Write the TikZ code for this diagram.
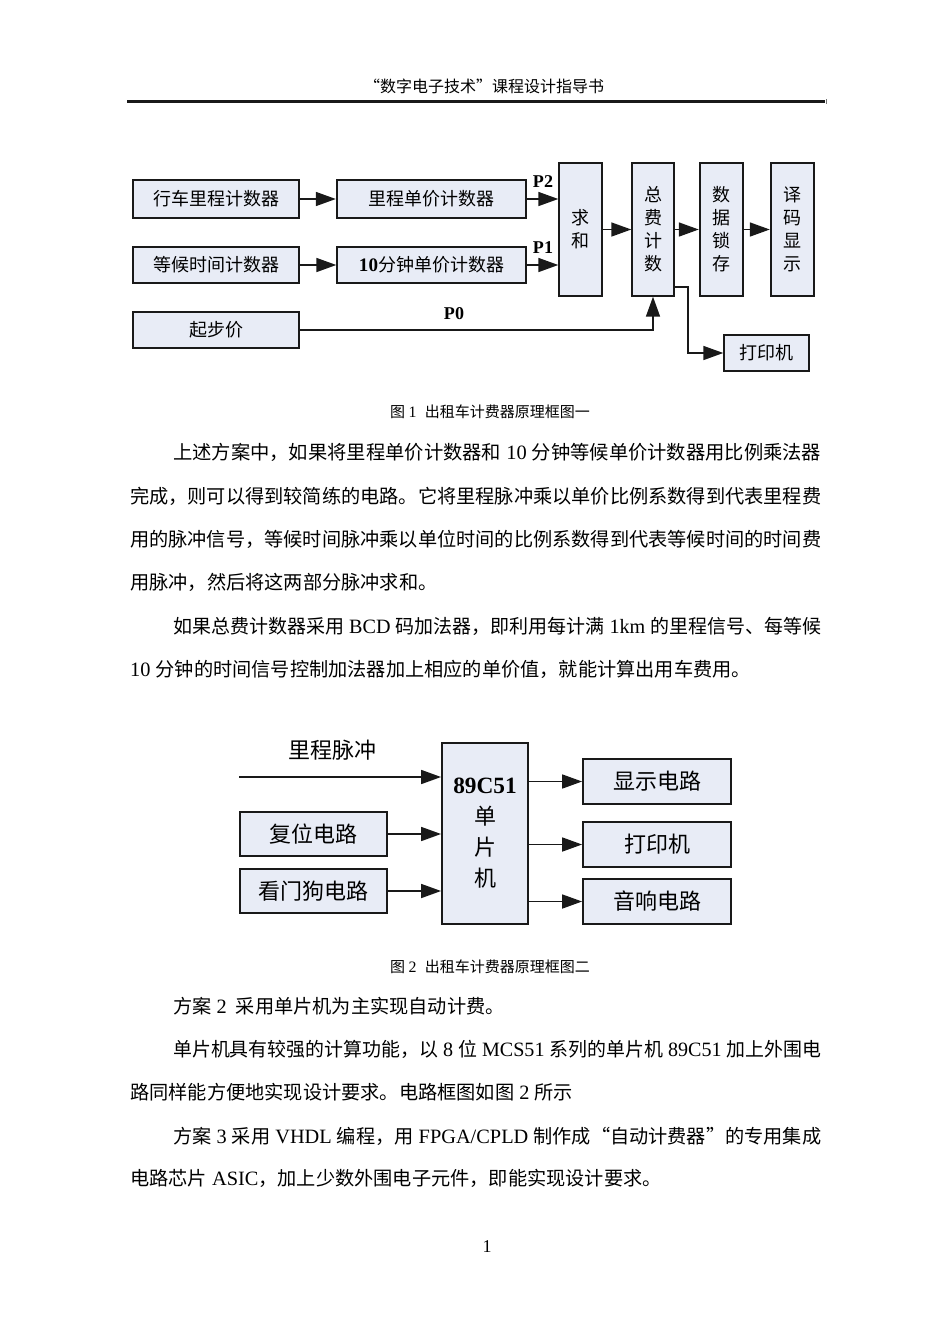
\documentclass[tikz,border=0pt]{standalone}
\usepackage{fontspec}
\usepackage{graphicx}
\setmainfont{Noto Sans CJK SC}
\newfontfamily\tnr[Scale=1.06]{Liberation Serif}
\newfontfamily\cjkfw[RawFeature=+fwid]{Noto Sans CJK SC}
\newcommand\en[1]{{\tnr #1}}
\newcommand\fq[1]{{\cjkfw #1}}
\newcommand\fitw[2]{\resizebox{#1}{\height}{#2}}
\usetikzlibrary{arrows.meta}
\definecolor{boxfill}{RGB}{232,236,246}
\definecolor{ink}{RGB}{25,25,25}
\tikzset{
  bodytxt/.style={anchor=base west, inner sep=0, font=\fontsize{19.2}{19.2}\selectfont},
  capt/.style={anchor=base west, inner sep=0, font=\fontsize{15}{15}\selectfont},
  blk/.style={draw=ink, fill=boxfill, line width=1.4pt, inner sep=0,
    font=\fontsize{18}{23}\selectfont, align=center},
  blkthick/.style={blk, line width=2.4pt},
  blktwo/.style={draw=ink, fill=boxfill, line width=1.8pt, inner sep=0,
    font=\fontsize{22}{31}\selectfont, align=center},
  conn/.style={draw=ink, line width=1.6pt, -{Triangle[length=20pt,width=14pt]}},
  plab/.style={inner sep=0, font=\tnr\bfseries\fontsize{17}{17}\selectfont},
}
\begin{document}
\begin{tikzpicture}[x=1pt,y=-1pt]
\useasboundingbox (0,0) rectangle (950,1342);
\fill[white] (0,0) rectangle (950,1342);

% ---------- header ----------
\node[anchor=base, inner sep=0, font=\fontsize{16}{16}\selectfont] (hdr) at (484,92)
  {\fq{“}数字电子技术\fq{”}课程设计指导书};
\draw[ink, line width=2.4pt] (127,101.5) -- (825,101.5);
\draw[ink!60, line width=0.6pt] (826.5,99) -- (826.5,104);

% ---------- figure 1 ----------
\node[blk, minimum width=166, minimum height=38] (a1) at (216,199) {行车里程计数器};
\node[blkthick, minimum width=189, minimum height=38] (a2) at (431.5,199) {里程单价计数器};
\node[blk, minimum width=166, minimum height=36] (b1) at (216,265) {等候时间计数器};
\node[blk, minimum width=189, minimum height=36] (b2) at (431.5,265) {\en{\bfseries 10}分钟单价计数器};
\node[blk, minimum width=166, minimum height=36] (c1) at (216,330) {起步价};
\node[blk, minimum width=43, minimum height=133] (qh) at (580.5,229.5) {求\\和};
\node[blk, minimum width=42, minimum height=133] (zf) at (653,229.5) {总\\费\\计\\数};
\node[blkthick, minimum width=43, minimum height=133] (sj) at (721.5,229.5) {数\\据\\锁\\存};
\node[blkthick, minimum width=43, minimum height=133] (ym) at (792.5,229.5) {译\\码\\显\\示};
\node[blk, minimum width=85, minimum height=36] (dy) at (766.5,353) {打印机};

\node[plab] (p2) at (543,182) {P2};
\node[plab] (p1) at (543,248) {P1};
\node[plab] (p0) at (454,314) {P0};

\draw[conn] (a1.east) -- (a2.west);
\draw[conn] (a2.east) -- (a2.east -| qh.west);
\draw[conn] (b1.east) -- (b2.west);
\draw[conn] (b2.east) -- (b2.east -| qh.west);
\draw[conn] (c1.east) -| (zf.south);
\draw[conn] (qh.east) -- (zf.west);
\draw[conn] (zf.east) -- (sj.west);
\draw[conn] (sj.east) -- (ym.west);
\draw[conn] ([yshift=10pt]zf.south east) -- ++(13,0) |- (dy.west);

\node[capt] (cap1) at (390,417.7) {图 \en{1}\hspace{5pt} 出租车计费器原理框图一};

% ---------- text block 1 ----------
\node[bodytxt] (t1) at (173,459.3) {\fitw{648pt}{上述方案中，如果将里程单价计数器和\en{ 10 }分钟等候单价计数器用比例乘法器}};
\node[bodytxt] (t2) at (130,503.3) {\fitw{691pt}{完成，则可以得到较简练的电路。它将里程脉冲乘以单价比例系数得到代表里程费}};
\node[bodytxt] (t3) at (130,546.3) {\fitw{691pt}{用的脉冲信号，等候时间脉冲乘以单位时间的比例系数得到代表等候时间的时间费}};
\node[bodytxt] (t4) at (130,589.3) {用脉冲，然后将这两部分脉冲求和。};
\node[bodytxt] (t5) at (173,633.3) {\fitw{648pt}{如果总费计数器采用\en{ BCD }码加法器，即利用每计满\en{ 1km }的里程信号、每等候}};
\node[bodytxt] (t6) at (130,676.3) {\en{10 }分钟的时间信号控制加法器加上相应的单价值，就能计算出用车费用。};

% ---------- figure 2 ----------
\node[inner sep=0, font=\fontsize{22}{22}\selectfont] (lcl) at (332,750) {里程脉冲};
\coordinate (lcs) at (239,777);
\node[blktwo, minimum width=86, minimum height=181] (mcu) at (485,833.5)
  {\en{\bfseries 89C51}\\单\\片\\机};
\node[blktwo, minimum width=147, minimum height=44] (fw) at (313.5,834) {复位电路};
\node[blktwo, minimum width=147, minimum height=44] (km) at (313.5,891) {看门狗电路};
\node[blktwo, minimum width=148, minimum height=45] (xs) at (657,781.5) {显示电路};
\node[blktwo, minimum width=148, minimum height=45] (dy2) at (657,844.5) {打印机};
\node[blktwo, minimum width=148, minimum height=45] (yx) at (657,901.5) {音响电路};

\draw[conn] (lcs) -- (lcs -| mcu.west);
\draw[conn] (fw.east) -- (fw.east -| mcu.west);
\draw[conn] (km.east) -- (km.east -| mcu.west);
\draw[conn] (mcu.east |- xs.west) -- (xs.west);
\draw[conn] (mcu.east |- dy2.west) -- (dy2.west);
\draw[conn] (mcu.east |- yx.west) -- (yx.west);

\node[capt] (cap2) at (390,972.7) {图 \en{2}\hspace{5pt} 出租车计费器原理框图二};

% ---------- text block 2 ----------
\node[bodytxt] (u1) at (173,1013.3) {方案\en{ 2 }\hspace{4pt}采用单片机为主实现自动计费。};
\node[bodytxt] (u2) at (173,1056.3) {\fitw{648pt}{单片机具有较强的计算功能，以\en{ 8 }位\en{ MCS51 }系列的单片机\en{ 89C51 }加上外围电}};
\node[bodytxt] (u3) at (130,1099.3) {路同样能方便地实现设计要求。电路框图如图\en{ 2 }所示};
\node[bodytxt] (u4) at (173,1143.3) {\fitw{648pt}{方案\en{ 3 }采用\en{ VHDL }编程，用\en{ FPGA/CPLD }制作成\fq{“}自动计费器\fq{”}的专用集成}};
\node[bodytxt] (u5) at (130,1185.3) {电路芯片\en{ ASIC}，加上少数外围电子元件，即能实现设计要求。};

\node[anchor=base, inner sep=0, font=\tnr\fontsize{17}{17}\selectfont] (pg) at (487,1252.5) {1};
\end{tikzpicture}
\end{document}
